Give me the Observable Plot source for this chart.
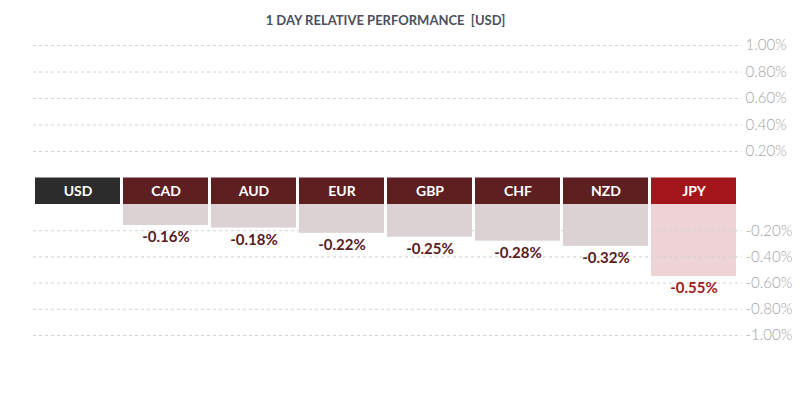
<!DOCTYPE html>
<html>
<head>
<meta charset="utf-8">
<script src="https://cdn.jsdelivr.net/npm/d3@7"></script>
<script src="https://cdn.jsdelivr.net/npm/@observablehq/plot@0.6"></script>
<style>
  html, body { margin: 0; padding: 0; background: #fff; }
  #wrap { position: relative; width: 800px; height: 396px; font-family: Lato, "Open Sans", sans-serif; }
  #title { position: absolute; left: 33px; width: 705px; top: 0; height: 40px; line-height: 40px;
           text-align: center; font-size: 13px; font-weight: 700; color: #4b505c; white-space: pre; }
  #chart { position: absolute; left: 0; top: 30px; }
</style>
</head>
<body>
<div id="wrap">
  <div id="chart"></div>
  <div id="title">1 DAY RELATIVE PERFORMANCE  [USD]</div>
</div>
<script>
const currencies = ["USD", "CAD", "AUD", "EUR", "GBP", "CHF", "NZD", "JPY"];
const changes = [0, -0.16, -0.18, -0.22, -0.25, -0.28, -0.32, -0.55];
const tickValues = [1.0, 0.8, 0.6, 0.4, 0.2, -0.2, -0.4, -0.6, -0.8, -1.0];
// the currency header strip sits between the negative and positive halves of the axis
const HEADER_TOP = 1e-6;

const headerColors = {USD: "#2c2c2c", JPY: "#a3161b"};
const barColors = {JPY: "#edd3d5"};
const labelColors = {JPY: "#a0181d"};

const data = currencies.map((c, i) => ({currency: c, change: changes[i]}));
const withBars = data.filter(d => d.change !== 0);

const chart = Plot.plot({
  width: 800,
  height: 366,
  marginLeft: 33,
  marginRight: 58,
  marginTop: 0,
  marginBottom: 0,
  style: {fontFamily: "Lato, 'Open Sans', sans-serif", background: "transparent"},
  x: {type: "band", domain: currencies, range: [33, 738], paddingInner: 0.035, paddingOuter: 0, axis: null},
  y: {type: "linear", domain: [-1, 0, HEADER_TOP, 1], range: [305, 174, 147.5, 15], axis: null},
  marks: [
    Plot.barY(withBars, {
      x: "currency", y1: 0, y2: "change",
      fill: d => barColors[d.currency] ?? "#dcd2d3"
    }),
    Plot.ruleY(tickValues, {stroke: "#d2d2d2", strokeDasharray: "3,3", strokeWidth: 1}),
    Plot.axisY({
      anchor: "right", ticks: tickValues, tickSize: 0, tickPadding: 3, label: null,
      tickFormat: d => d.toFixed(2) + "%",
      fontSize: 15, fontWeight: 300, fill: "#a3a3a3", textAnchor: "start"
    }),
    Plot.barY(data, {
      x: "currency", y1: 0, y2: HEADER_TOP,
      fill: d => headerColors[d.currency] ?? "#5e1f21"
    }),
    Plot.text(data, {
      x: "currency", y: HEADER_TOP / 2, text: "currency",
      fill: "white", fontSize: 14, fontWeight: 700, lineAnchor: "middle"
    }),
    Plot.text(withBars, {
      x: "currency", y: "change", dy: 12, lineAnchor: "middle",
      text: d => d.change.toFixed(2) + "%",
      fill: d => labelColors[d.currency] ?? "#5a1a1f",
      fontSize: 15, fontWeight: 700
    })
  ]
});
document.getElementById("chart").appendChild(chart);
</script>
</body>
</html>
